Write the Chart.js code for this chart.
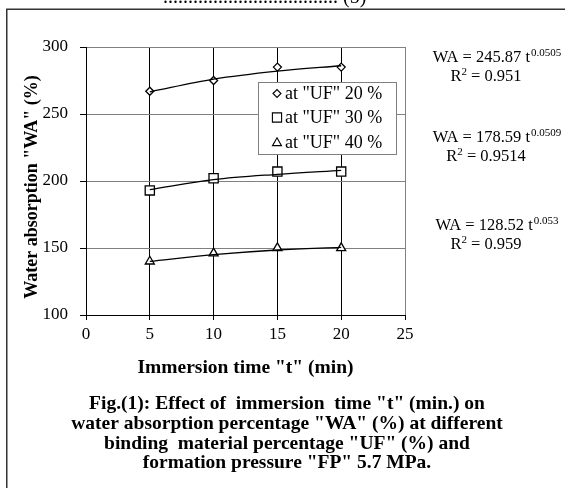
<!DOCTYPE html>
<html>
<head>
<meta charset="utf-8">
<script src="https://cdn.jsdelivr.net/npm/chart.js@4.4.1/dist/chart.umd.min.js"></script>
<style>
  html, body { margin: 0; padding: 0; background: #fff; }
  #wrap { width: 565px; height: 488px; position: relative; }
</style>
</head>
<body>
<div id="wrap"><canvas id="c" width="565" height="488"></canvas></div>
<script>
// ---- data ----
const times = [5, 10, 15, 20];
const seriesNames = ['at "UF" 20 %', 'at "UF" 30 %', 'at "UF" 40 %'];
const wa20 = [267, 275, 285, 285];
const wa30 = [193, 202, 207, 207];
const wa40 = [140, 146, 150, 150];
// fitted power trend curves as drawn in the picture
const trend20 = [266.5, 276, 282, 286];
const trend30 = [193.5, 201, 205, 208];
const trend40 = [140, 145, 148.5, 150.5];
const xTicks = [0, 5, 10, 15, 20, 25];
const yTicks = [100, 150, 200, 250, 300];
const equations = [
  ['WA = 245.87 t', '0.0505', 'R', '2', ' = 0.951'],
  ['WA = 178.59 t', '0.0509', 'R', '2', ' = 0.9514'],
  ['WA = 128.52 t', '0.053', 'R', '2', ' = 0.959']
];
const captionLines = [
  'Fig.(1): Effect of  immersion  time "t" (min.) on',
  'water absorption percentage "WA" (%) at different',
  'binding  material percentage "UF" (%) and',
  'formation pressure "FP" 5.7 MPa.'
];
const topText = '................................... (5)';
const xTitle = 'Immersion time "t" (min)';
const yTitle = 'Water absorption "WA" (%)';

const styles = ['rectRot', 'rect', 'triangle'];
const radii = [4, 6.5, 5.2];
const SERIF = '"Liberation Serif", "Times New Roman", serif';

function pts(xs, ys) { return xs.map((x, i) => ({ x: x, y: ys[i] })); }

const markerSets = [wa20, wa30, wa40];
const trendSets = [trend20, trend30, trend40];
const datasets = [];
trendSets.forEach((t, i) => {
  datasets.push({
    label: 'trend' + i,
    data: pts(times, t),
    borderColor: '#000',
    borderWidth: 1.3,
    pointRadius: 0,
    showLine: true,
    cubicInterpolationMode: 'monotone',
    fill: false
  });
});
markerSets.forEach((d, i) => {
  datasets.push({
    label: seriesNames[i],
    data: pts(times, d),
    showLine: false,
    pointStyle: styles[i],
    pointRadius: radii[i],
    pointBorderColor: '#000',
    pointBackgroundColor: '#fff',
    pointBorderWidth: 1.3
  });
});

const decor = {
  id: 'decor',
  afterDraw(chart) {
    const ctx = chart.ctx;
    const H = Chart.helpers;
    ctx.save();
    // outer frame
    ctx.strokeStyle = '#333';
    ctx.lineWidth = 1.5;
    ctx.beginPath();
    ctx.moveTo(6.75, 600); ctx.lineTo(6.75, 9.25); ctx.lineTo(700, 9.25);
    ctx.stroke();
    // top text (cut off)
    ctx.fillStyle = '#000';
    ctx.font = '20px ' + SERIF;
    ctx.textAlign = 'left';
    ctx.textBaseline = 'alphabetic';
    ctx.fillText(topText, 163, 3);

    // y axis title
    ctx.save();
    ctx.translate(32, 187);
    ctx.rotate(-Math.PI / 2);
    ctx.font = 'bold 18px ' + SERIF;
    ctx.textAlign = 'center';
    ctx.textBaseline = 'middle';
    ctx.fillText(yTitle, 0, 0);
    ctx.restore();

    // legend box
    const lx = 258, ly = 82, lw = 138, lh = 72;
    ctx.fillStyle = '#fff';
    ctx.fillRect(lx, ly, lw, lh);
    ctx.strokeStyle = '#808080';
    ctx.lineWidth = 1;
    ctx.strokeRect(lx + 0.5, ly + 0.5, lw, lh);
    const rowY = [93.5, 117.5, 142];
    const legR = [4, 6.5, 5.2];
    seriesNames.forEach((n, i) => {
      ctx.strokeStyle = '#000';
      ctx.fillStyle = '#fff';
      ctx.lineWidth = 1.1;
      H.drawPoint(ctx, { pointStyle: styles[i], radius: legR[i], borderWidth: 1.1, rotation: 0 }, 277, rowY[i] + (i === 2 ? 1 : 0));
      ctx.fillStyle = '#000';
      ctx.font = '18px ' + SERIF;
      ctx.textAlign = 'left';
      ctx.textBaseline = 'middle';
      ctx.fillText(n, 285, rowY[i] + 1);
    });

    // equations
    const eqY = [[58, 77], [138, 157], [226, 245]];
    const eqCx = [497, 497, 497];
    equations.forEach((e, i) => {
      ctx.fillStyle = '#000';
      ctx.textBaseline = 'middle';
      ctx.textAlign = 'left';
      const big = '16.5px ' + SERIF, small = '11px ' + SERIF;
      ctx.font = big; const w1 = ctx.measureText(e[0]).width;
      ctx.font = small; const w2 = ctx.measureText(e[1]).width;
      let x = eqCx[i] - (w1 + w2 + 1) / 2;
      ctx.font = big; ctx.fillText(e[0], x, eqY[i][0]);
      ctx.font = small; ctx.fillText(e[1], x + w1 + 1, eqY[i][0] - 5);
      ctx.font = big; const w3 = ctx.measureText(e[2]).width;
      const w5 = ctx.measureText(e[4]).width;
      ctx.font = small; const w4 = ctx.measureText(e[3]).width;
      x = 486 - (w3 + w4 + w5) / 2;
      ctx.font = big; ctx.fillText(e[2], x, eqY[i][1]);
      ctx.font = small; ctx.fillText(e[3], x + w3, eqY[i][1] - 5);
      ctx.font = big; ctx.fillText(e[4], x + w3 + w4, eqY[i][1]);
    });

    // caption
    ctx.font = 'bold 19.5px ' + SERIF;
    ctx.textAlign = 'center';
    ctx.textBaseline = 'middle';
    const capY = [403.5, 423.5, 443.5, 463];
    captionLines.forEach((l, i) => ctx.fillText(l, 287, capY[i]));
    ctx.restore();
  }
};

new Chart(document.getElementById('c'), {
  type: 'scatter',
  data: { datasets: datasets },
  plugins: [decor],
  options: {
    responsive: false,
    animation: false,
    events: [],
    layout: { padding: { left: 0, top: 47, right: 160, bottom: 0 } },
    plugins: { legend: { display: false }, tooltip: { enabled: false } },
    scales: {
      x: {
        type: 'linear',
        min: 0, max: 25,
        afterFit(s) { s.height = 488 - 315; },
        afterBuildTicks(s) { s.ticks = xTicks.map(v => ({ value: v })); },
        ticks: {
          color: '#000',
          font: { family: SERIF, size: 17 },
          padding: 4,
          maxRotation: 0
        },
        grid: {
          color: c => (c.tick && c.tick.value === 25) ? '#808080' : '#000',
          tickColor: '#000',
          tickLength: 5,
          lineWidth: 1
        },
        border: { color: '#000', width: 1 },
        title: {
          display: true,
          text: xTitle,
          color: '#000',
          font: { family: SERIF, size: 19.5, weight: 'bold' },
          padding: { top: 0, bottom: 108 }
        }
      },
      y: {
        type: 'linear',
        min: 100, max: 300,
        afterFit(s) { s.width = 86; },
        afterBuildTicks(s) { s.ticks = yTicks.map(v => ({ value: v })); },
        ticks: {
          color: '#000',
          font: { family: SERIF, size: 17 },
          padding: 12
        },
        grid: {
          color: '#808080',
          tickColor: '#000',
          tickLength: 6,
          lineWidth: 1
        },
        border: { color: '#000', width: 1 },
        title: { display: false }
      }
    }
  }
});
</script>
</body>
</html>
